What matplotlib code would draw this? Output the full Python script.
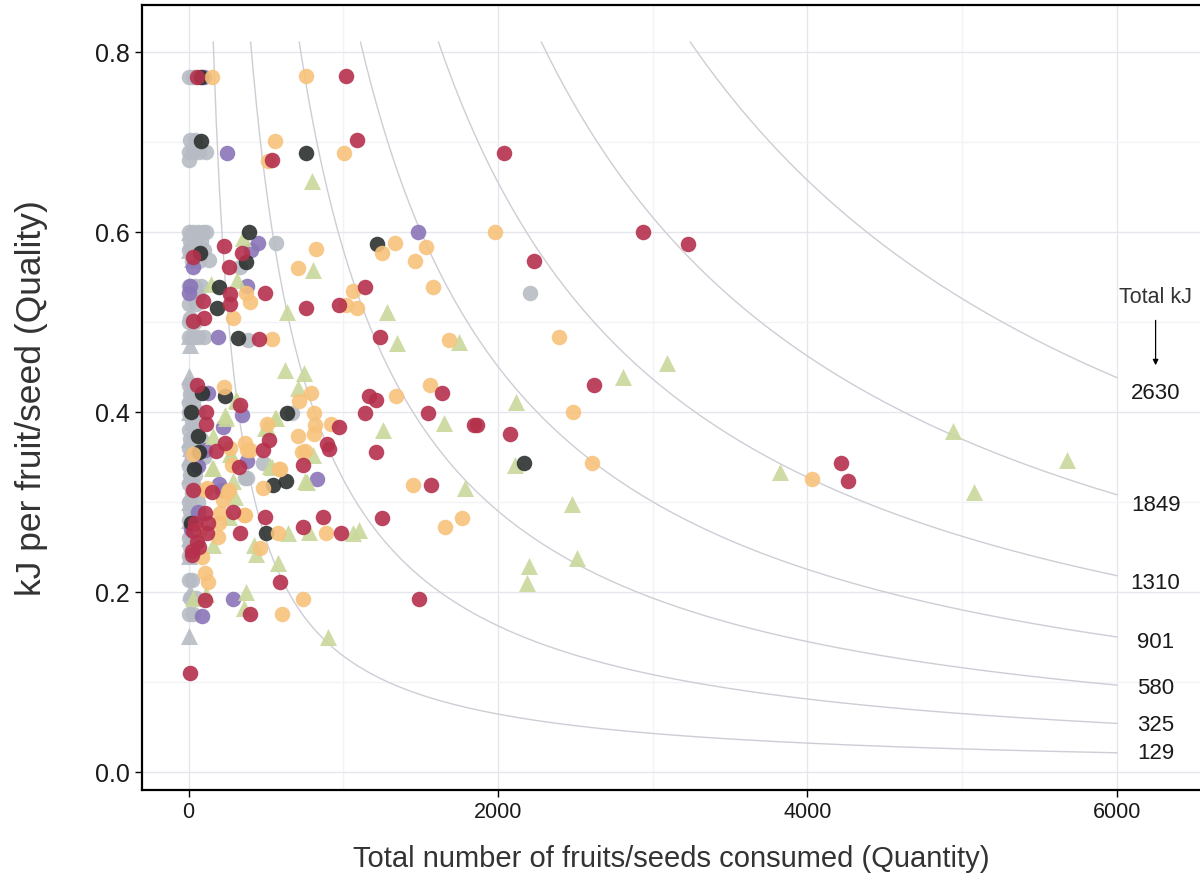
import matplotlib
matplotlib.use("Agg")
import matplotlib.pyplot as plt
import numpy as np

# kJ isoclines
totals = [129, 325, 580, 901, 1310, 1849, 2630]

grey_x = [0, 25, 10, 40, 0, 30, 70, 110, 0, 0, 30, 60, 90, 110, 10, 50, 80, 0, 40, 100,
          20, 70, 129, 330, 0, 40, 80, 20, 60, 0, 50, 10, 0, 40, 0, 30, 60, 100, 381, 563,
          2205, 0, 20, 10, 50, 0, 30, 0, 60, 20, 0, 40, 10, 80, 0, 30, 20, 100, 0, 50, 478,
          10, 40, 362, 0, 30, 20, 0, 60, 10, 0, 40, 20, 0, 30, 10, 0, 0, 20, 10, 50, 0, 30,
          670, 375]
grey_y = [0.772, 0.772, 0.702, 0.702, 0.689, 0.689, 0.689, 0.689, 0.680, 0.600, 0.600,
          0.600, 0.600, 0.600, 0.590, 0.590, 0.590, 0.580, 0.580, 0.580, 0.568, 0.568,
          0.569, 0.561, 0.540, 0.540, 0.540, 0.530, 0.530, 0.520, 0.520, 0.505, 0.500,
          0.500, 0.483, 0.483, 0.483, 0.483, 0.480, 0.588, 0.532, 0.430, 0.430, 0.420,
          0.420, 0.410, 0.410, 0.400, 0.400, 0.390, 0.380, 0.380, 0.370, 0.370, 0.360,
          0.360, 0.350, 0.350, 0.340, 0.340, 0.344, 0.330, 0.330, 0.327, 0.320, 0.320,
          0.310, 0.300, 0.300, 0.290, 0.280, 0.280, 0.270, 0.260, 0.260, 0.250, 0.240,
          0.213, 0.213, 0.193, 0.193, 0.176, 0.176, 0.399, 0.327]

greytri_x = [0, 10, 0, 20, 0, 10, 0, 20, 0, 10, 0, 20, 0, 10, 0, 20, 0, 10, 0, 20, 0, 10,
             0, 20, 0, 10, 0]
greytri_y = [0.600, 0.590, 0.580, 0.570, 0.485, 0.475, 0.440, 0.430, 0.420, 0.410,
             0.400, 0.390, 0.370, 0.360, 0.350, 0.340, 0.330, 0.310, 0.300, 0.290,
             0.280, 0.270, 0.260, 0.250, 0.240, 0.200, 0.151]

purple_x = [97, 246, 1481, 446, 401, 26, 375, 0, 188, 123, 343, 220, 103, 375, 828, 194,
            213, 285, 84, 58, 10, 15, 60]
purple_y = [0.772, 0.688, 0.600, 0.588, 0.580, 0.561, 0.540, 0.532, 0.483, 0.421, 0.397,
            0.383, 0.358, 0.346, 0.326, 0.320, 0.314, 0.192, 0.174, 0.289, 0.540, 0.270,
            0.340]

green_x = [795, 802, 634, 1280, 1345, 1746, 621, 744, 705, 563, 504, 1254, 1649, 304, 239,
           155, 272, 802, 142, 310, 349, 3091, 2806, 2114, 2108, 1785, 2476, 3822, 2198,
           2185, 2509, 4940, 5677, 5076, 537, 155, 640, 776, 1060, 1099, 420, 433, 575,
           763, 369, 356, 26, 110, 899, 155, 285, 298, 259, 310, 233, 556, 491, 265, 149,
           524, 750]
green_y = [0.657, 0.558, 0.511, 0.511, 0.477, 0.478, 0.447, 0.443, 0.427, 0.393, 0.383,
           0.380, 0.388, 0.413, 0.394, 0.373, 0.354, 0.352, 0.542, 0.547, 0.593, 0.455,
           0.439, 0.411, 0.341, 0.316, 0.298, 0.333, 0.229, 0.210, 0.238, 0.379, 0.347,
           0.311, 0.339, 0.338, 0.266, 0.267, 0.266, 0.269, 0.252, 0.242, 0.232, 0.322,
           0.200, 0.182, 0.194, 0.198, 0.150, 0.252, 0.324, 0.306, 0.283, 0.412, 0.397,
           0.394, 0.382, 0.353, 0.338, 0.340, 0.324]

orange_x = [149, 757, 1002, 556, 511, 821, 705, 1332, 1248, 1532, 1461, 1578, 1060, 1978,
            1015, 1086, 537, 284, 369, 394, 2392, 1681, 1558, 1338, 2483, 789, 711, 808,
            815, 918, 705, 808, 504, 226, 394, 362, 731, 750, 478, 259, 116, 220, 356, 188,
            103, 123, 737, 601, 886, 575, 459, 582, 1448, 1655, 265, 2606, 1765, 4028, 26,
            278, 588, 103, 252, 200, 362, 194, 71, 84, 375]
orange_y = [0.772, 0.773, 0.688, 0.701, 0.679, 0.581, 0.560, 0.588, 0.577, 0.583, 0.568,
            0.539, 0.535, 0.600, 0.519, 0.516, 0.481, 0.504, 0.532, 0.522, 0.483, 0.480,
            0.430, 0.418, 0.400, 0.421, 0.412, 0.399, 0.386, 0.387, 0.374, 0.376, 0.387,
            0.428, 0.358, 0.366, 0.356, 0.357, 0.316, 0.313, 0.316, 0.302, 0.286, 0.261,
            0.221, 0.211, 0.192, 0.176, 0.266, 0.266, 0.249, 0.337, 0.319, 0.272, 0.360,
            0.343, 0.282, 0.326, 0.353, 0.341, 0.337, 0.314, 0.311, 0.288, 0.286, 0.277,
            0.269, 0.239, 0.358]

red_x = [52, 1015, 1086, 537, 2037, 2936, 3227, 2231, 1138, 970, 757, 226, 343, 259, 491,
         265, 265, 91, 97, 26, 453, 1235, 2619, 1636, 1545, 1862, 1843, 2076, 1565, 1487,
         1164, 1209, 1138, 970, 892, 905, 1209, 737, 517, 478, 175, 233, 110, 110, 323, 26,
         149, 284, 491, 330, 26, 52, 19, 19, 116, 103, 394, 588, 737, 866, 983, 1248, 6,
         103, 39, 65, 26, 4216, 4261, 52, 330, 123]
red_y = [0.772, 0.773, 0.702, 0.680, 0.688, 0.600, 0.587, 0.568, 0.539, 0.519, 0.516,
         0.584, 0.577, 0.561, 0.532, 0.531, 0.520, 0.523, 0.505, 0.501, 0.481, 0.483,
         0.430, 0.421, 0.399, 0.386, 0.386, 0.376, 0.319, 0.192, 0.418, 0.413, 0.399,
         0.384, 0.365, 0.359, 0.356, 0.341, 0.369, 0.358, 0.357, 0.366, 0.400, 0.387,
         0.339, 0.314, 0.311, 0.289, 0.283, 0.266, 0.268, 0.256, 0.246, 0.241, 0.266,
         0.191, 0.176, 0.211, 0.272, 0.283, 0.266, 0.282, 0.110, 0.288, 0.277, 0.250,
         0.572, 0.343, 0.324, 0.430, 0.408, 0.277]

dark_x = [78, 78, 757, 1216, 388, 369, 194, 181, 317, 71, 2166, 13, 634, 65, 32, 543, 627,
          13, 498, 84, 233, 58]
dark_y = [0.772, 0.701, 0.688, 0.587, 0.600, 0.567, 0.539, 0.516, 0.482, 0.577, 0.344,
          0.400, 0.399, 0.356, 0.337, 0.319, 0.324, 0.277, 0.266, 0.421, 0.418, 0.373]

fig = plt.figure(figsize=(12, 8.76), dpi=100)
ax = fig.add_axes([0.118, 0.098, 0.882, 0.896])

# curves
for k in totals:
    xs = np.linspace(k / 0.811, 6000, 300)
    ax.plot(xs, k / xs, color="#cdcdd6", lw=1.0, zorder=1)
    ax.text(6250, k / 6250, str(k), ha="center", va="center", fontsize=16,
            family="Liberation Sans", color="#1a1a1a")

ax.text(6250, 0.527, "Total kJ", ha="center", va="center", fontsize=15.5,
        family="Liberation Sans", color="#333333")
ax.annotate("", xy=(6250, 0.449), xytext=(6250, 0.505),
            arrowprops=dict(arrowstyle="-|>", color="black", lw=0.9,
                            mutation_scale=8))

ms = 125
ax.scatter(grey_x, grey_y, s=ms, c="#b7bcc4", alpha=0.9, lw=0, zorder=2)
ax.scatter(greytri_x, greytri_y, s=150, marker="^", c="#b7bcc4", alpha=0.9, lw=0, zorder=2)
ax.scatter(purple_x, purple_y, s=ms, c="#8a75b8", alpha=0.9, lw=0, zorder=3)
ax.scatter(green_x, green_y, s=150, marker="^", c="#cad89b", alpha=0.9, lw=0, zorder=3)
ax.scatter(dark_x, dark_y, s=ms, c="#2c312f", alpha=0.9, lw=0, zorder=4)
ax.scatter(orange_x, orange_y, s=ms, c="#f7c27b", alpha=0.9, lw=0, zorder=4)
ax.scatter(red_x, red_y, s=ms, c="#b5304c", alpha=0.9, lw=0, zorder=5)

ax.set_xlim(-304, 6537)
ax.set_ylim(-0.02, 0.852)
ax.set_xticks([0, 2000, 4000, 6000])
ax.set_yticks([0.0, 0.2, 0.4, 0.6, 0.8])
ax.set_yticklabels(["0.0", "0.2", "0.4", "0.6", "0.8"])
ax.set_xticks([1000, 3000, 5000], minor=True)
ax.set_yticks([0.1, 0.3, 0.5, 0.7], minor=True)
ax.grid(which="major", color="#e6e6ee", lw=1.0, zorder=0)
ax.grid(which="minor", color="#f3f3f7", lw=1.0, zorder=0)
ax.set_axisbelow(True)
ax.tick_params(which="minor", length=0)
ax.tick_params(which="major", length=5, width=1, color="black",
               labelcolor="#1a1a1a")
ax.tick_params(axis="x", labelsize=15.5)
ax.tick_params(axis="y", labelsize=18)
for lab in ax.get_xticklabels() + ax.get_yticklabels():
    lab.set_family("Liberation Sans")
for sp in ax.spines.values():
    sp.set_linewidth(1.6)
    sp.set_color("black")
ax.spines["right"].set_visible(False)

ax.set_xlabel("Total number of fruits/seeds consumed (Quantity)", fontsize=21,
              family="Liberation Sans", color="#333333", labelpad=16)
ax.set_ylabel("kJ per fruit/seed (Quality)", fontsize=25.5,
              family="Liberation Sans", color="#333333", labelpad=34)

fig.savefig("out.png", dpi=100)
